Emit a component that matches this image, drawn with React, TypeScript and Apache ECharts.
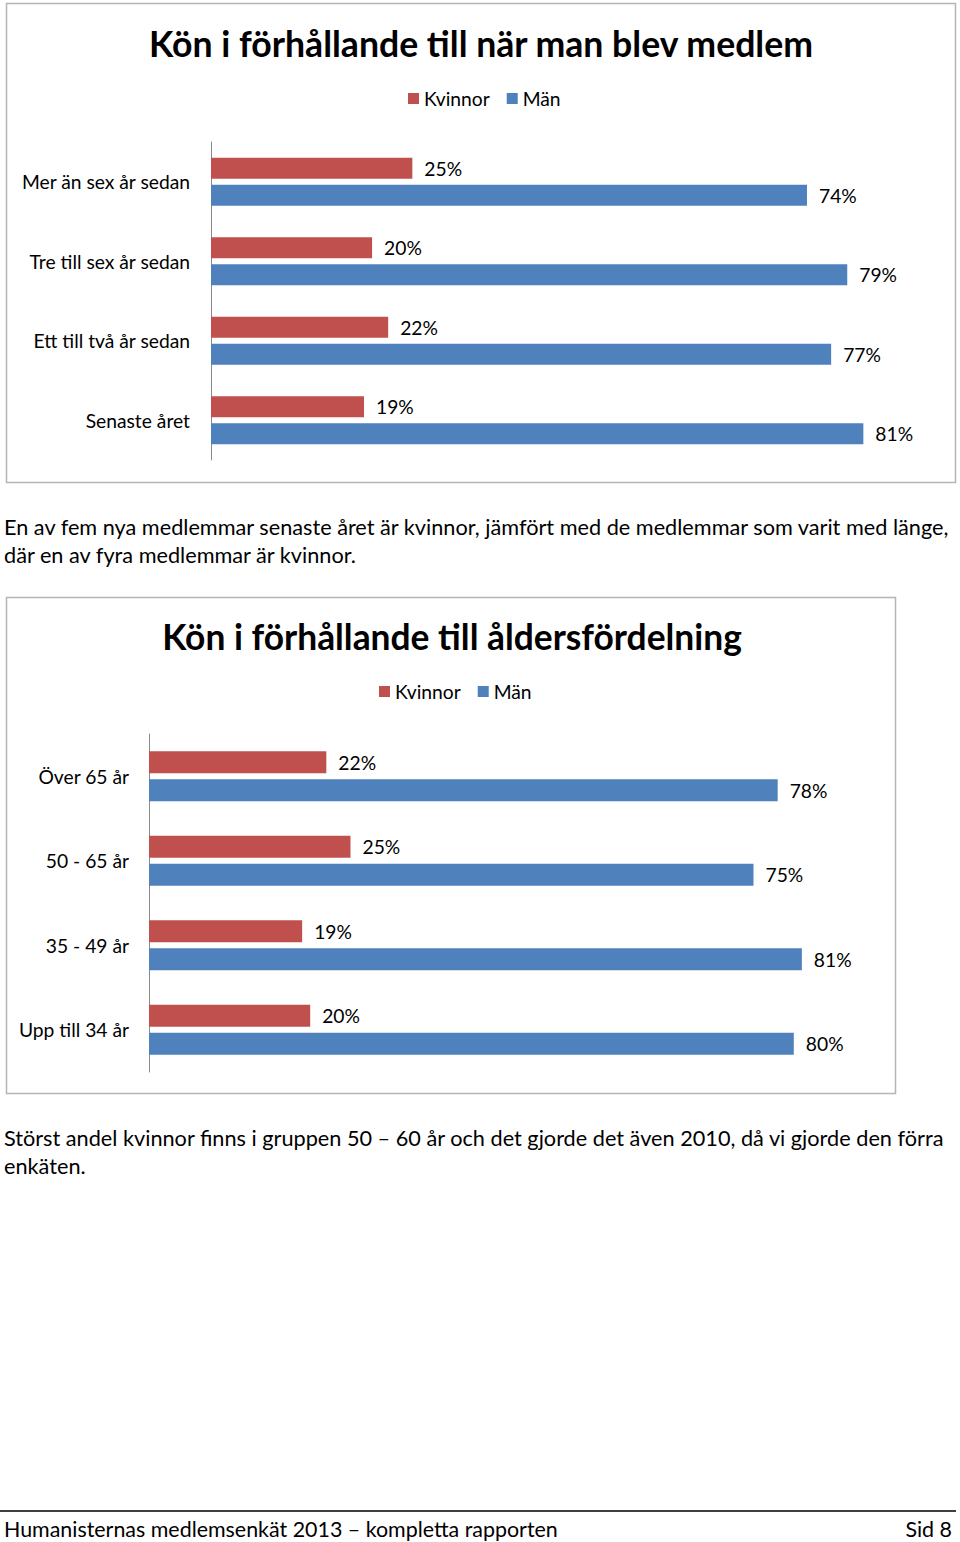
import React, { useEffect, useRef } from "react";
import * as echarts from "echarts";

const FONT = "Lato";

const chart1Title = "Kön i förhållande till när man blev medlem";
const chart1Categories = ["Mer än sex år sedan", "Tre till sex år sedan", "Ett till två år sedan", "Senaste året"];
const chart1Kvinnor = [25, 20, 22, 19];
const chart1Man = [74, 79, 77, 81];

const chart2Title = "Kön i förhållande till åldersfördelning";
const chart2Categories = ["Över 65 år", "50 - 65 år", "35 - 49 år", "Upp till 34 år"];
const chart2Kvinnor = [22, 25, 19, 20];
const chart2Man = [78, 75, 81, 80];

const seriesNames = ["Kvinnor", "Män"];

const para1 = [
  "En av fem nya medlemmar senaste året är kvinnor, jämfört med de medlemmar som varit med länge,",
  "där en av fyra medlemmar är kvinnor.",
];
const para2 = [
  "Störst andel kvinnor finns i gruppen 50 – 60 år och det gjorde det även 2010, då vi gjorde den förra",
  "enkäten.",
];
const footerLeft = "Humanisternas medlemsenkät 2013 – kompletta rapporten";
const footerRight = "Sid 8";

const RED = "#C0504D";
const BLUE = "#4F81BD";

function fit(text: string, width: number, weight = "normal") {
  const c = document.createElement("canvas").getContext("2d");
  if (!c) return 18;
  c.font = `${weight} 100px ${FONT}`;
  return (100 * width) / c.measureText(text).width;
}

export default function App() {
  const ref = useRef<HTMLDivElement>(null);
  useEffect(() => {
    if (!ref.current) return;
    const chart = echarts.init(ref.current, undefined, { renderer: "svg" });
    const catSize = fit("Mer än sex år sedan", 169);
    const paraSize = fit(para1[0], 947);
    const footSize = fit(footerLeft, 554);
    const t1Size = fit(chart1Title, 666, "bold");
    const t2Size = fit(chart2Title, 580, "bold");

    const label = {
      show: true,
      position: "right",
      distance: 12,
      formatter: "{c}%",
      color: "#000",
      fontFamily: FONT,
      fontSize: catSize,
    };

    const text = (x: number, y: number, s: string, size: number, extra: any = {}) => ({
      type: "text",
      x,
      y,
      style: {
        text: s,
        font: `${extra.weight || "normal"} ${size}px ${FONT}`,
        fill: "#000",
        textAlign: extra.align || "left",
        textVerticalAlign: "middle",
      },
    });

    const legendBase = {
      data: seriesNames,
      padding: 0,
      itemWidth: 11,
      itemHeight: 11,
      itemGap: 17,
      icon: "rect",
      textStyle: { fontFamily: FONT, fontSize: catSize, color: "#000" },
    };

    chart.setOption({
      animation: false,
      backgroundColor: "#fff",
      legend: [
        { ...legendBase, left: 408, top: 89 },
        { ...legendBase, left: 379, top: 682 },
      ],
      grid: [
        { left: 211, top: 142, width: 749.6, height: 318 },
        { left: 149, top: 734, width: 806, height: 338 },
      ],
      xAxis: [
        { type: "value", gridIndex: 0, min: 0, max: 93, show: false, splitLine: { show: false } },
        { type: "value", gridIndex: 1, min: 0, max: 100, show: false, splitLine: { show: false } },
      ],
      yAxis: [
        {
          type: "category",
          gridIndex: 0,
          inverse: true,
          data: chart1Categories,
          axisLine: { lineStyle: { color: "#8a8a8a", width: 1 } },
          axisTick: { show: false },
          axisLabel: { margin: 21, color: "#000", fontFamily: FONT, fontSize: catSize },
        },
        {
          type: "category",
          gridIndex: 1,
          inverse: true,
          data: chart2Categories,
          axisLine: { lineStyle: { color: "#8a8a8a", width: 1 } },
          axisTick: { show: false },
          axisLabel: { margin: 20, color: "#000", fontFamily: FONT, fontSize: catSize },
        },
      ],
      series: [
        {
          name: seriesNames[0], type: "bar", xAxisIndex: 0, yAxisIndex: 0, data: chart1Kvinnor,
          barWidth: 21, barGap: "29%", itemStyle: { color: RED }, label,
        },
        {
          name: seriesNames[1], type: "bar", xAxisIndex: 0, yAxisIndex: 0, data: chart1Man,
          barWidth: 21, barGap: "29%", itemStyle: { color: BLUE }, label,
        },
        {
          name: seriesNames[0], type: "bar", xAxisIndex: 1, yAxisIndex: 1, data: chart2Kvinnor,
          barWidth: 22, barGap: "27%", itemStyle: { color: RED }, label,
        },
        {
          name: seriesNames[1], type: "bar", xAxisIndex: 1, yAxisIndex: 1, data: chart2Man,
          barWidth: 22, barGap: "27%", itemStyle: { color: BLUE }, label,
        },
      ],
      graphic: [
        {
          type: "rect",
          shape: { x: 6.5, y: 3.5, width: 949, height: 479 },
          style: { fill: "none", stroke: "#b5b5b5", lineWidth: 1.5 },
        },
        {
          type: "rect",
          shape: { x: 6.5, y: 597.5, width: 889, height: 496 },
          style: { fill: "none", stroke: "#b5b5b5", lineWidth: 1.5 },
        },
        text(481, 43, chart1Title, t1Size, { weight: "bold", align: "center" }),
        text(452, 636, chart2Title, t2Size, { weight: "bold", align: "center" }),
        text(4, 527, para1[0], paraSize),
        text(4, 555, para1[1], paraSize),
        text(4, 1138, para2[0], paraSize),
        text(4, 1166, para2[1], paraSize),
        {
          type: "line",
          shape: { x1: 0, y1: 1511, x2: 956, y2: 1511 },
          style: { stroke: "#000", lineWidth: 1.5 },
        },
        text(4, 1529, footerLeft, footSize),
        text(952, 1529, footerRight, footSize, { align: "right" }),
      ],
    });
    return () => chart.dispose();
  }, []);
  return <div ref={ref} style={{ position: "absolute", left: 0, top: 0, width: 960, height: 1542 }} />;
}
